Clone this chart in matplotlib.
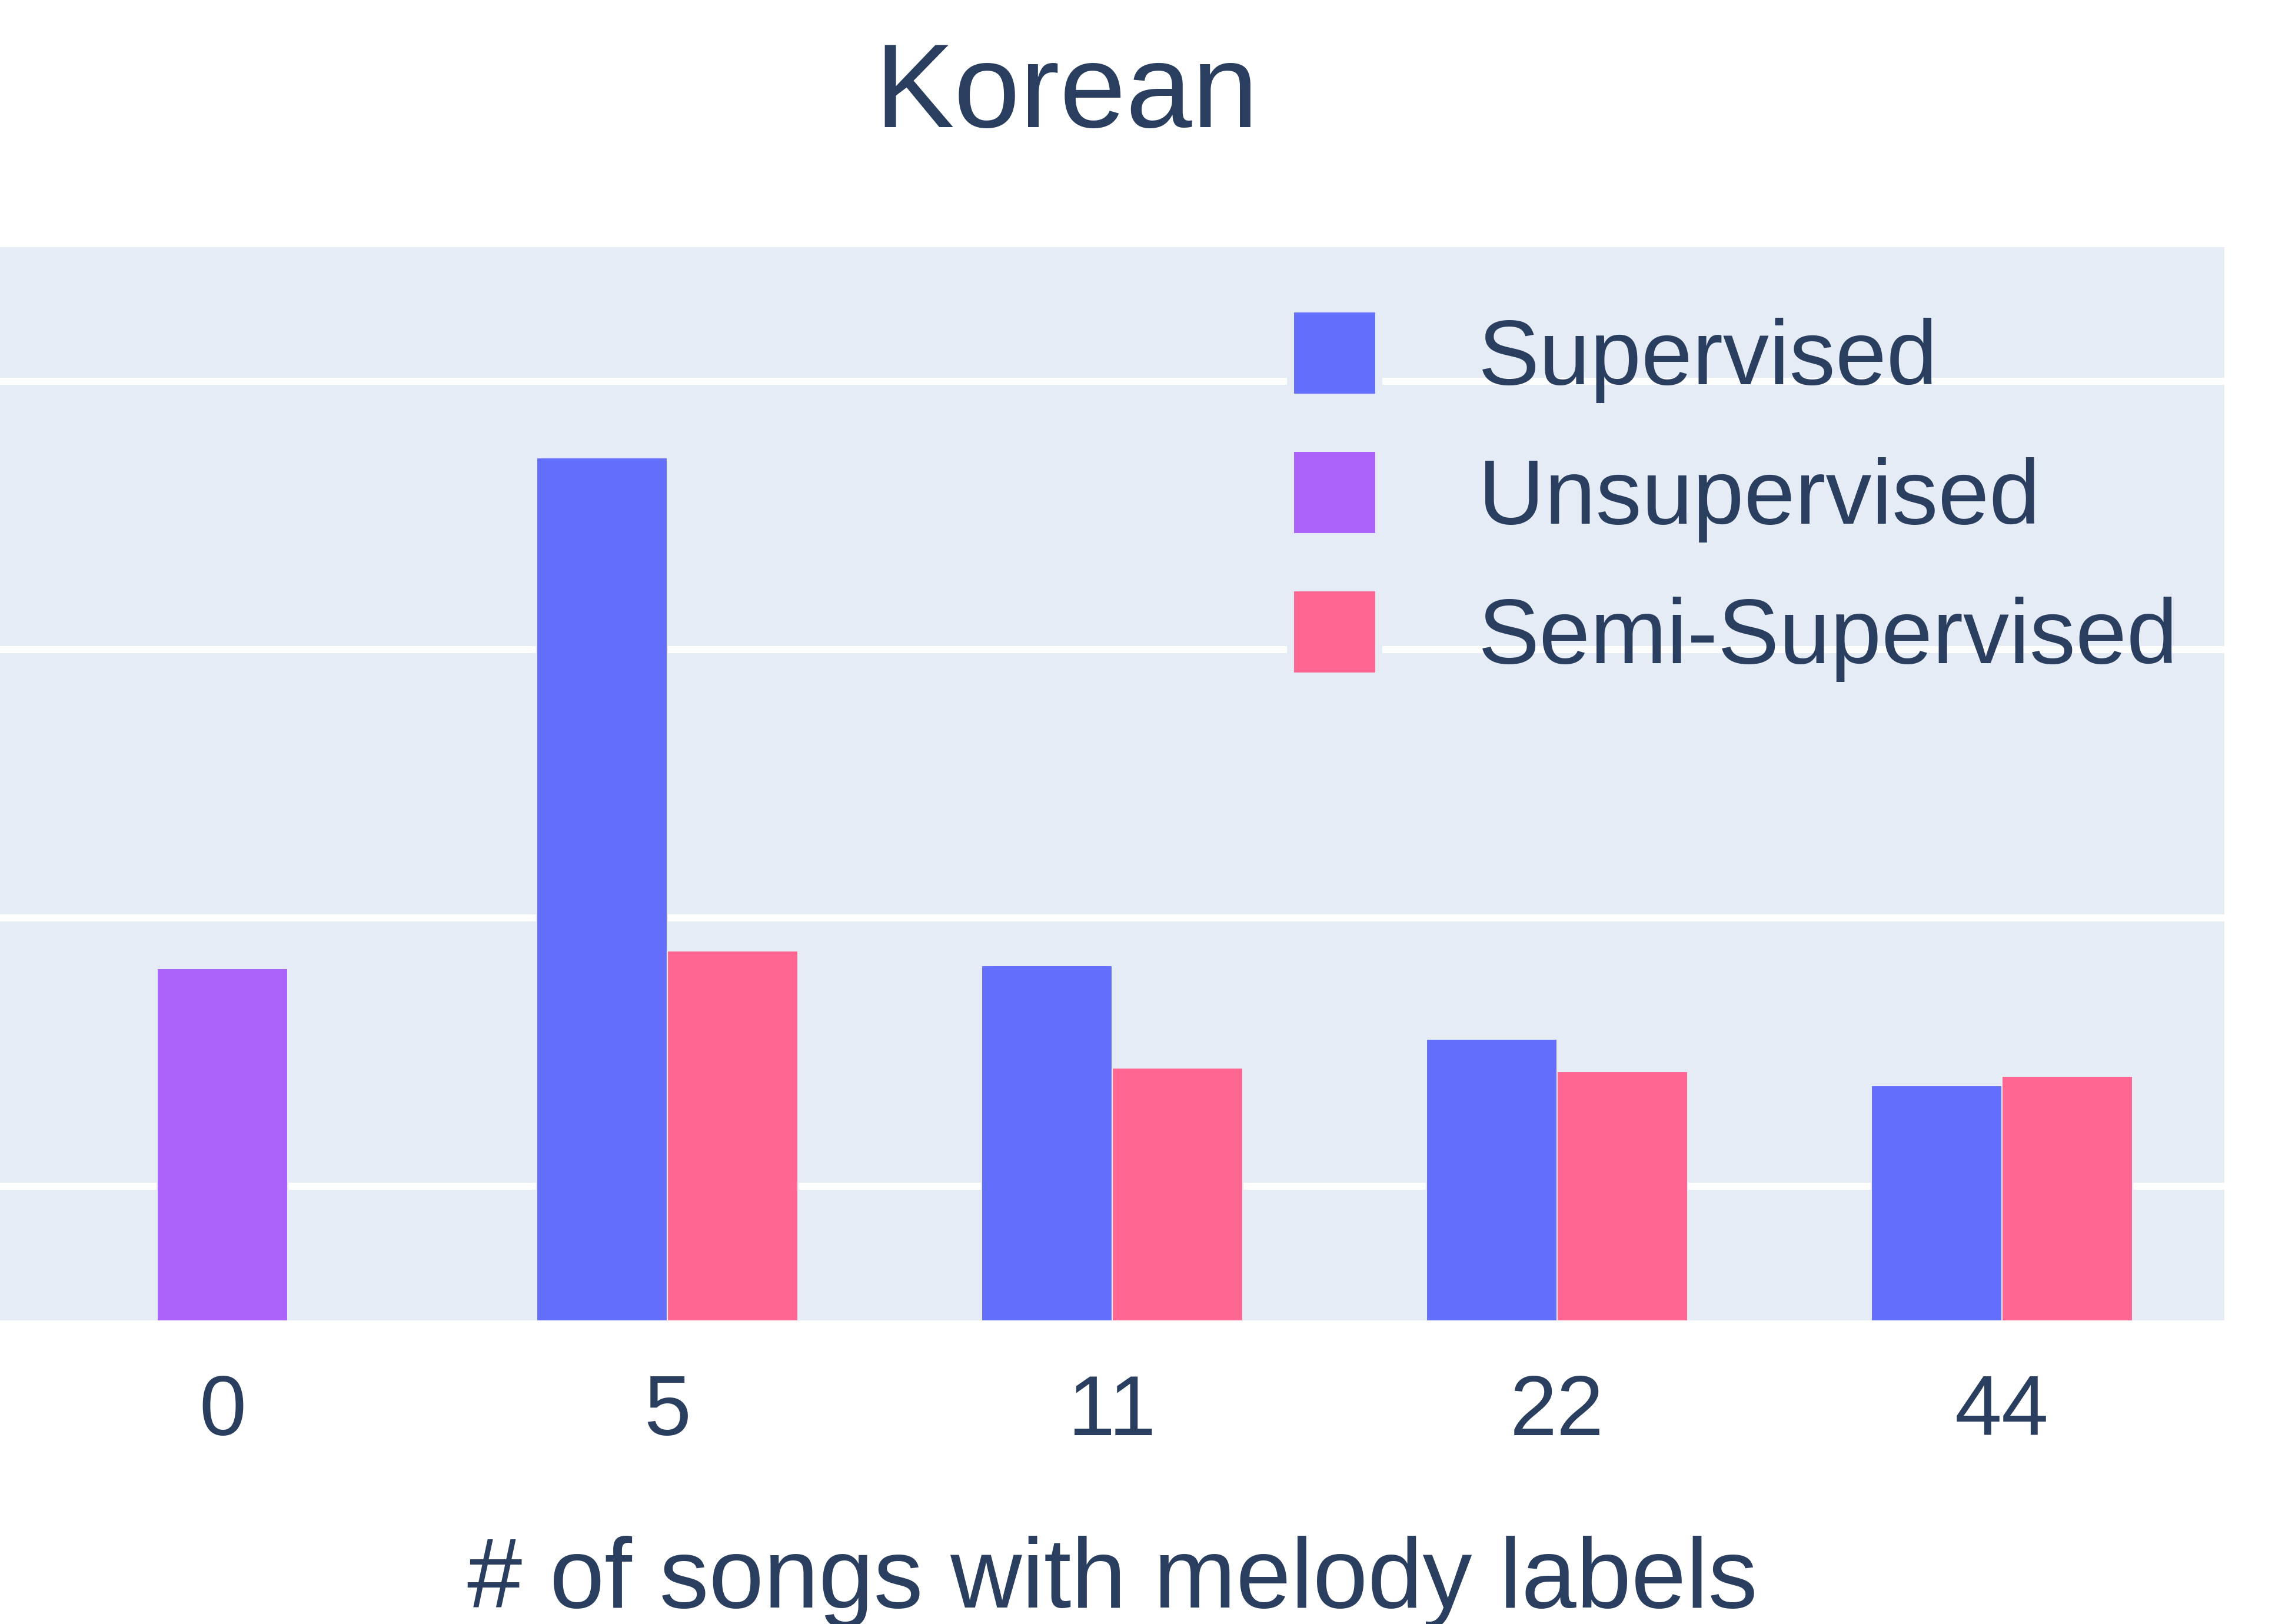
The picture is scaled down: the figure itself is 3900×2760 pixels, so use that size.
import numpy as np
import matplotlib.pyplot as plt
from matplotlib.patches import Patch

plt.rcParams['font.family'] = ['Liberation Sans', 'DejaVu Sans']

# Data (y axis has no visible labels; gridlines at 1, 2, 3, 4)
categories = ['0', '5', '11', '22', '44']
supervised = [np.nan, 3.715, 1.822, 1.548, 1.374]
unsupervised = [1.811, np.nan, np.nan, np.nan, np.nan]
semi_supervised = [np.nan, 1.877, 1.441, 1.428, 1.409]

bg = '#E5ECF6'
text_color = '#2A3F5F'
c_sup = '#636EFA'
c_unsup = '#AB63FA'
c_semi = '#FF6692'

fig = plt.figure(figsize=(13, 9.2), dpi=300)
ax = fig.add_axes([0.0, 0.18696, 0.96923, 0.66087])
ax.set_facecolor(bg)

x = np.arange(len(categories))
w = 0.294
ax.bar(x - w / 2, supervised, w, color=c_sup, edgecolor=bg, linewidth=0.5, zorder=3)
ax.bar(x, unsupervised, w, color=c_unsup, edgecolor=bg, linewidth=0.5, zorder=3)
ax.bar(x + w / 2, semi_supervised, w, color=c_semi, edgecolor=bg, linewidth=0.5, zorder=3)

ax.set_xlim(-0.5, 4.5)
ax.set_ylim(0.5, 4.5)
ax.set_yticks([1, 2, 3, 4])
ax.set_yticklabels([])
ax.yaxis.grid(True, color='white', linewidth=2.9, zorder=0)
ax.set_axisbelow(True)
ax.tick_params(axis='y', length=0)
ax.set_xticks(x)
ax.set_xticklabels(categories)
ax.tick_params(axis='x', length=0, pad=21.5, labelsize=34.5, labelcolor=text_color)
for s in ax.spines.values():
    s.set_visible(False)

ax.set_xlabel('# of songs with melody labels', fontsize=40.3, color=text_color, labelpad=34)

fig.text(0.4648, 0.9217, 'Korean', fontsize=48.5, color=text_color, ha='center', va='baseline')

handles = [Patch(facecolor=c_sup, edgecolor=bg, linewidth=2.9),
           Patch(facecolor=c_unsup, edgecolor=bg, linewidth=2.9),
           Patch(facecolor=c_semi, edgecolor=bg, linewidth=2.9)]
leg = ax.legend(handles, ['Supervised', 'Unsupervised', 'Semi-Supervised'],
                loc='upper left', bbox_to_anchor=(0.5623, 0.8097),
                bbox_transform=fig.transFigure, frameon=False, fontsize=37.5,
                handlelength=0.96, handleheight=1.1, handletextpad=1.08,
                labelspacing=0.49, borderpad=0, borderaxespad=0)
for t in leg.get_texts():
    t.set_color(text_color)

fig.savefig('out.png', dpi=300, facecolor='white')
